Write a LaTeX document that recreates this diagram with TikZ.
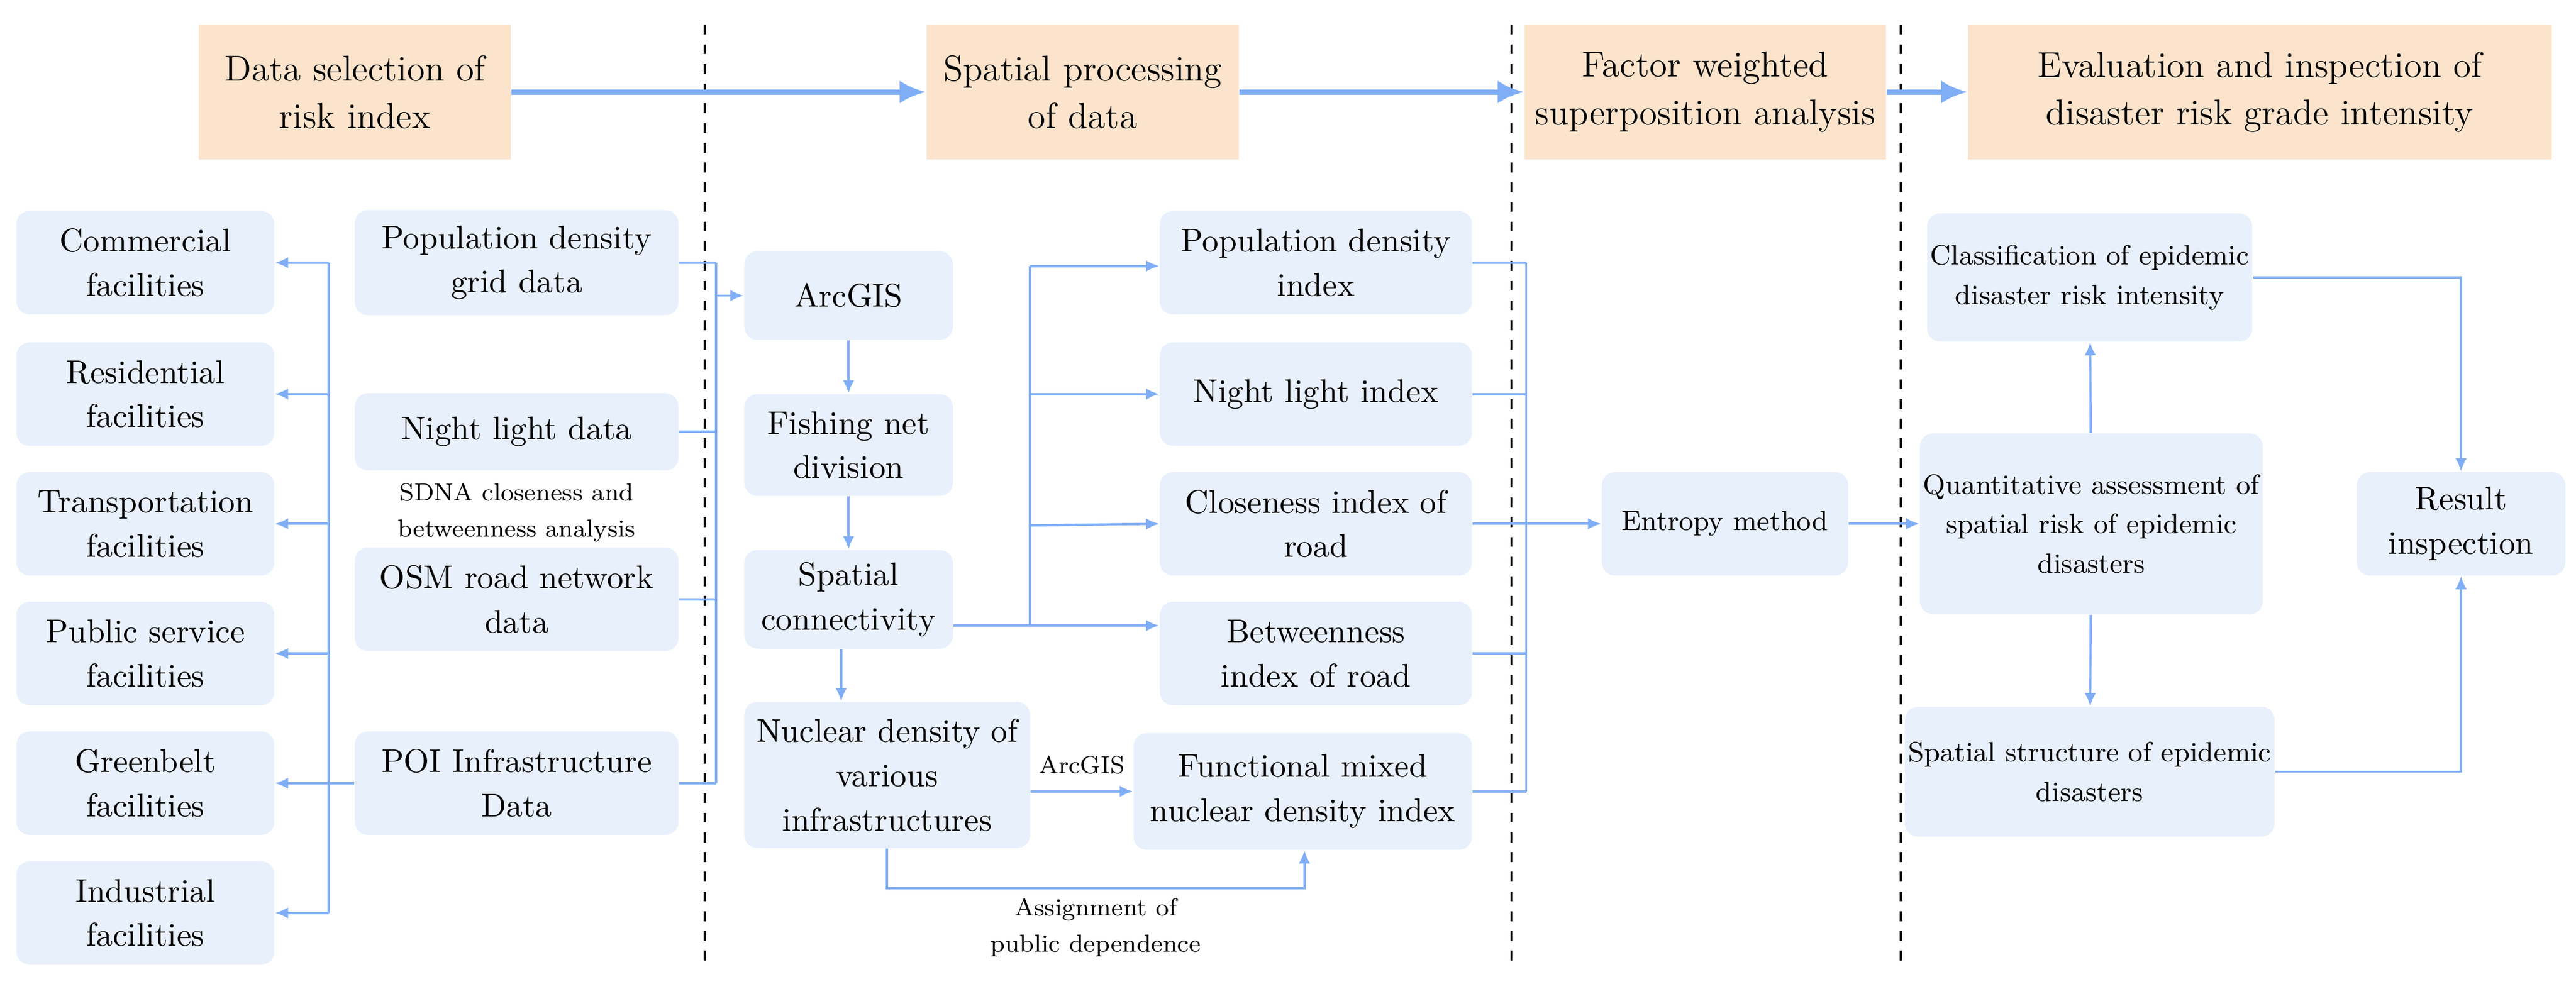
\documentclass[tikz,border=0pt]{standalone}
\usetikzlibrary{arrows.meta}
\definecolor{boxc}{HTML}{E8F0FC}
\definecolor{hdc}{HTML}{FCE4CC}
\definecolor{arr}{HTML}{80AEF6}
\begin{document}
\begin{tikzpicture}[x=0.5pt,y=-0.5pt,
 box/.style={fill=boxc,rounded corners=4pt,inner sep=1pt,align=center,font=\fontsize{10}{13.5}\selectfont},
 sbox/.style={box,font=\fontsize{8.5}{12}\selectfont},
 hd/.style={fill=hdc,inner sep=1pt,align=center,minimum height=41pt,font=\fontsize{11}{14.5}\selectfont},
 lbl/.style={font=\fontsize{7.5}{11}\selectfont,align=center,inner sep=0},
 ln/.style={draw=arr,line width=0.7pt},
 ar/.style={ln,-{Latex[length=4pt,width=3.5pt]}},
 big/.style={draw=arr,line width=1.6pt,-{Latex[length=8pt,width=7pt]}},
 dl/.style={dashed,line width=0.6pt}]
\useasboundingbox (0,0) rectangle (1568,602);
\draw[dl] (429,15) -- (429,585);
\draw[dl] (920,15) -- (920,585);
\draw[dl] (1157,15) -- (1157,585);
% headers
\node[hd,minimum width=95pt] (h1) at (216,56) {Data selection of\\risk index};
\node[hd,minimum width=95pt] (h2) at (659,56) {Spatial processing\\of data};
\node[hd,minimum width=110pt] (h3) at (1038,56) {Factor weighted\\superposition analysis};
\node[hd,minimum width=177.5pt] (h4) at (1375.5,56) {Evaluation and inspection of\\disaster risk grade intensity};
\draw[big] (h1) -- (h2);
\draw[big] (h2) -- (h3);
\draw[big] (h3) -- (h4);
% left column
\foreach \n/\t/\y in {c1/Commercial\\facilities/160, c2/Residential\\facilities/240, c3/Transportation\\facilities/319, c4/Public service\\facilities/398, c5/Greenbelt\\facilities/477, c6/Industrial\\facilities/556}
  \node[box,minimum width=78.5pt,minimum height=31.5pt] (\n) at (88.5,\y) {\t};
% data
\node[box,minimum width=98.5pt,minimum height=32pt] (d1) at (314.5,160) {Population density\\grid data};
\node[box,minimum width=98.5pt,minimum height=23.5pt] (d2) at (314.5,263) {Night light data};
\node[box,minimum width=98.5pt,minimum height=31.5pt] (d3) at (314.5,365) {OSM road network\\data};
\node[box,minimum width=98.5pt,minimum height=31.5pt] (d4) at (314.5,477) {POI Infrastructure\\Data};
\node[lbl] (sdna) at (314.5,312) {SDNA closeness and\\betweenness analysis};
\coordinate (lb) at (200,477);
\draw[ln] (d4.west) -- (lb);
\draw[ln] (200,160) -- (200,556);
\foreach \n in {c1,c2,c3,c4,c5,c6} \draw[ar] (200,0 |- \n) -- (\n.east);
% processing
\node[box,minimum width=63.5pt,minimum height=27pt] (arc) at (516.5,180) {ArcGIS};
\node[box,minimum width=63.5pt,minimum height=31pt] (fish) at (516.5,271) {Fishing net\\division};
\node[box,minimum width=63.5pt,minimum height=30pt] (sc) at (516.5,365) {Spatial\\connectivity};
\node[box,minimum width=87pt,minimum height=44.5pt] (nuc) at (540,472) {Nuclear density of\\various\\infrastructures};
\foreach \n in {d1,d2,d3,d4} \draw[ln] (\n.east) -- (436,0 |- \n);
\draw[ln] (436,160) -- (436,477);
\draw[ar] (436,0 |- arc) -- (arc.west);
\draw[ar] (arc) -- (fish);
\draw[ar] (fish) -- (sc);
\draw[ar] (512,0 |- sc.south) -- (512,0 |- nuc.north);
% indices
\node[box,minimum width=95pt,minimum height=31.5pt] (i1) at (801,160) {Population density\\index};
\node[box,minimum width=95pt,minimum height=31.5pt] (i2) at (801,240) {Night light index};
\node[box,minimum width=95pt,minimum height=31.5pt] (i3) at (801,319) {Closeness index of\\road};
\node[box,minimum width=95pt,minimum height=31.5pt] (i4) at (801,398) {Betweenness\\index of road};
\node[box,minimum width=103pt,minimum height=35.5pt] (i5) at (793,482) {Functional mixed\\nuclear density index};
\draw[ln] (sc.east |- 0,381) -- (627,381) -- (627,162);
\draw[ar] (627,162) -- (i1.west |- 0,162);
\draw[ar] (627,240) -- (i2.west);
\draw[ar] (627,320) -- (i3.west);
\draw[ar] (627,381) -- (i4.west |- 0,381);
\draw[ar] (nuc.east |- 0,482) -- (i5.west |- 0,482) node[lbl,pos=0.5,above=5pt] {ArcGIS};
\draw[ar] (540,0 |- nuc.south) -- (540,541) -- (794,541) -- (794,0 |- i5.south);
\node[lbl] (asg) at (667,565) {Assignment of\\public dependence};
% entropy
\node[sbox,minimum width=75pt,minimum height=31.5pt] (ent) at (1050,319) {Entropy method};
\foreach \n in {i1,i2,i4,i5} \draw[ln] (\n.east) -- (929,0 |- \n);
\draw[ln] (929,160) -- (929,482);
\draw[ar] (i3.east) -- (ent.west);
% evaluation
\node[sbox,minimum width=90pt,minimum height=39pt] (cl) at (1272,169) {Classification of epidemic\\disaster risk intensity};
\node[sbox,minimum width=90.5pt,minimum height=55pt] (qa) at (1273,319) {Quantitative assessment of\\spatial risk of epidemic\\disasters};
\node[sbox,minimum width=90pt,minimum height=39.5pt] (ss) at (1272,470) {Spatial structure of epidemic\\disasters};
\node[box,minimum width=63.5pt,minimum height=31.5pt] (res) at (1498,319) {Result\\inspection};
\draw[ar] (ent) -- (qa);
\draw[ar] (qa) -- (cl);
\draw[ar] (qa) -- (ss);
\draw[ar] (cl.east) -- (1498,0 |- cl) -- (res.north);
\draw[ar] (ss.east) -- (1498,0 |- ss) -- (res.south);
\end{tikzpicture}
\end{document}
